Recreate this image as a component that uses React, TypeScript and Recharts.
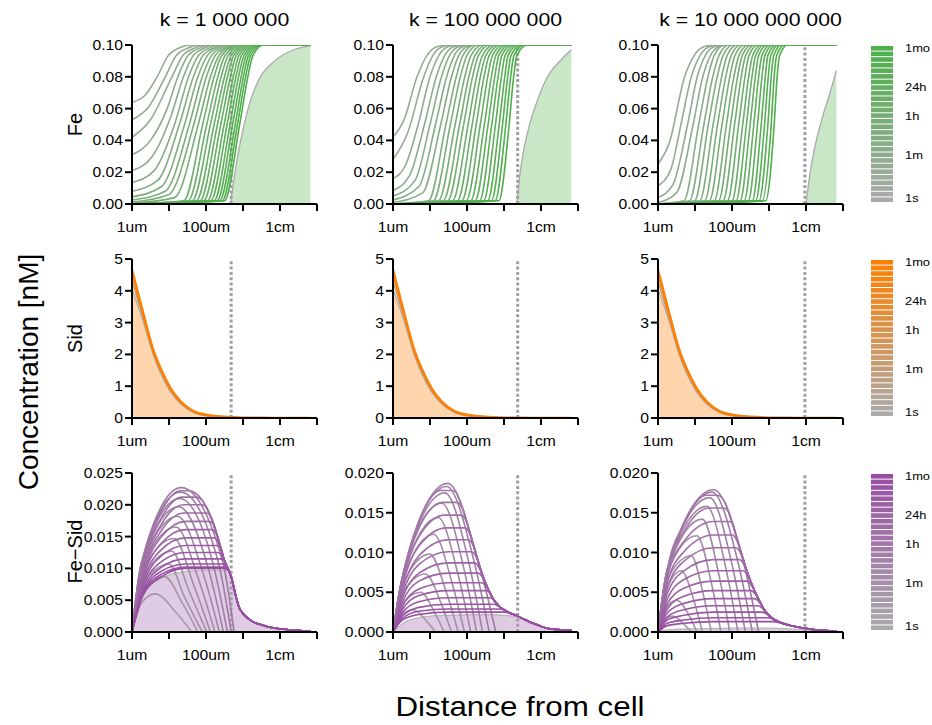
import React from 'react';
import { ComposedChart, Line, Area, XAxis, YAxis } from 'recharts';

type Pt = [number, number];

// ---------- axis / label data ----------
const X_TICKS = [0, 1, 2, 3, 4, 5]; // log10(distance / 1 µm)
const X_TICK_LABELS = ['1um', '', '100um', '', '1cm', ''];
const FE_Y_TICKS = [0, 0.02, 0.04, 0.06, 0.08, 0.1];
const SID_Y_TICKS = [0, 1, 2, 3, 4, 5];
const FESID_Y_TICKS_K6 = [0, 0.005, 0.01, 0.015, 0.02, 0.025];
const FESID_Y_TICKS = [0, 0.005, 0.01, 0.015, 0.02];
const TITLES = ['k = 1 000 000', 'k = 100 000 000', 'k = 10 000 000 000'];
const ROW_LABELS = ['Fe', 'Sid', 'Fe\u2212Sid'];
const CUTOFF_X = [2.68, 3.37, 3.97];
const LEGEND_LABELS = ['1mo', '24h', '1h', '1m', '1s'];
const LEGEND_STEPS = 28;

// ---------- Fe (row 1) ----------
const FE_K6: Pt[][] = [
  [[0, .064], [0.36, .0686], [0.68, .08], [0.99, .0937], [1.26, .098], [1.6, .1], [4.82, .1]],
  [[0, .053], [0.45, .061], [0.9, .08], [1.2, .0935], [1.5, .098], [1.85, .1], [4.82, .1]],
  [[0, .042], [0.5, .053], [1.08, .08], [1.38, .0935], [1.68, .098], [2.0, .1], [4.82, .1]],
  [[0, .031], [0.5, .04], [0.95, .06], [1.24, .08], [1.52, .0935], [1.82, .098], [2.15, .1], [4.82, .1]],
  [[0, .021], [0.55, .03], [1.05, .055], [1.39, .08], [1.66, .0935], [1.95, .098], [2.25, .1], [4.82, .1]],
  [[0, .0135], [0.6, .021], [1.15, .05], [1.53, .08], [1.8, .0935], [2.08, .098], [2.38, .1], [4.82, .1]],
  [[0, .008], [0.7, .015], [1.28, .05], [1.66, .08], [1.92, .0935], [2.2, .098], [2.48, .1], [4.82, .1]],
  [[0, .0045], [0.8, .011], [1.42, .05], [1.78, .08], [2.04, .0935], [2.3, .098], [2.58, .1], [4.82, .1]],
  [[0, .0025], [0.9, .008], [1.55, .05], [1.9, .08], [2.15, .0935], [2.4, .098], [2.67, .1], [4.82, .1]],
  [[0, .0012], [1.0, .006], [1.67, .05], [2.01, .08], [2.25, .0935], [2.5, .098], [2.74, .1], [4.82, .1]],
  [[0, .0005], [1.15, .004], [1.79, .05], [2.12, .08], [2.35, .0935], [2.58, .098], [2.8, .1], [4.82, .1]],
  [[0, 0], [1.40, .002], [1.91, .05], [2.22, .08], [2.43, .0935], [2.86, .1], [4.82, .1]],
  [[0, 0], [1.52, .002], [2.02, .05], [2.32, .08], [2.52, .0935], [2.92, .1], [4.82, .1]],
  [[0, 0], [1.63, .002], [2.12, .05], [2.41, .08], [2.60, .0935], [2.98, .1], [4.82, .1]],
  [[0, 0], [1.74, .002], [2.22, .05], [2.50, .08], [2.68, .0935], [3.05, .1], [4.82, .1]],
  [[0, 0], [1.84, .002], [2.31, .05], [2.58, .08], [2.75, .0935], [3.10, .1], [4.82, .1]],
  [[0, 0], [1.94, .002], [2.40, .05], [2.66, .08], [2.82, .0935], [3.16, .1], [4.82, .1]],
  [[0, 0], [2.04, .002], [2.49, .05], [2.74, .08], [2.89, .0935], [3.22, .1], [4.82, .1]],
  [[0, 0], [2.13, .002], [2.57, .05], [2.81, .08], [2.96, .0935], [3.28, .1], [4.82, .1]],
  [[0, 0], [2.22, .002], [2.65, .05], [2.88, .08], [3.03, .0935], [3.34, .1], [4.82, .1]],
  [[0, 0], [2.30, .002], [2.72, .05], [2.95, .08], [3.09, .0935], [3.40, .1], [4.82, .1]],
  [[0, 0], [2.37, .002], [2.79, .05], [3.01, .08], [3.15, .0935], [3.45, .1], [4.82, .1]],
  [[0, 0], [2.44, .002], [2.85, .05], [3.07, .08], [3.21, .0935], [3.50, .1], [4.82, .1]],
  [[0, 0], [2.50, .002], [2.91, .05], [3.13, .08], [3.27, .0935], [3.56, .1], [4.82, .1]],
];
const FE_AREA_K6: Pt[] = [[2.66, 0], [2.84, .028], [3.02, .049], [3.2, .065], [3.47, .08], [3.83, .0895], [4.37, .097], [4.82, .0996]];

const FE_K8: Pt[][] = [
  [[0, .042], [0.3, .053], [0.65, .08], [0.92, .0935], [1.2, .099], [1.45, .1], [4.82, .1]],
  [[0, .028], [0.4, .045], [0.83, .08], [1.08, .0935], [1.35, .099], [1.6, .1], [4.82, .1]],
  [[0, .016], [0.35, .025], [0.68, .05], [1.0, .08], [1.24, .0935], [1.5, .099], [1.75, .1], [4.82, .1]],
  [[0, .0085], [0.45, .018], [0.85, .05], [1.17, .08], [1.4, .0935], [1.65, .099], [1.9, .1], [4.82, .1]],
  [[0, .005], [0.6, .015], [1.0, .05], [1.31, .08], [1.53, .0935], [1.78, .099], [2.02, .1], [4.82, .1]],
  [[0, .0025], [0.7, .011], [1.15, .05], [1.45, .08], [1.66, .0935], [1.9, .099], [2.14, .1], [4.82, .1]],
  [[0, .001], [0.8, .007], [1.29, .05], [1.58, .08], [1.78, .0935], [2.02, .099], [2.25, .1], [4.82, .1]],
  [[0, 0], [0.96, .002], [1.43, .05], [1.71, .08], [1.89, .0935], [2.21, .1], [4.82, .1]],
  [[0, 0], [1.09, .002], [1.55, .05], [1.82, .08], [2.00, .0935], [2.31, .1], [4.82, .1]],
  [[0, 0], [1.23, .002], [1.68, .05], [1.94, .08], [2.11, .0935], [2.43, .1], [4.82, .1]],
  [[0, 0], [1.36, .002], [1.80, .05], [2.05, .08], [2.22, .0935], [2.53, .1], [4.82, .1]],
  [[0, 0], [1.48, .002], [1.91, .05], [2.15, .08], [2.31, .0935], [2.62, .1], [4.82, .1]],
  [[0, 0], [1.61, .002], [2.03, .05], [2.26, .08], [2.42, .0935], [2.72, .1], [4.82, .1]],
  [[0, 0], [1.74, .002], [2.14, .05], [2.36, .08], [2.51, .0935], [2.81, .1], [4.82, .1]],
  [[0, 0], [1.86, .002], [2.25, .05], [2.46, .08], [2.60, .0935], [2.90, .1], [4.82, .1]],
  [[0, 0], [1.98, .002], [2.36, .05], [2.56, .08], [2.69, .0935], [2.99, .1], [4.82, .1]],
  [[0, 0], [2.10, .002], [2.47, .05], [2.66, .08], [2.78, .0935], [3.07, .1], [4.82, .1]],
  [[0, 0], [2.22, .002], [2.57, .05], [2.75, .08], [2.86, .0935], [3.15, .1], [4.82, .1]],
  [[0, 0], [2.34, .002], [2.67, .05], [2.84, .08], [2.94, .0935], [3.23, .1], [4.82, .1]],
  [[0, 0], [2.45, .002], [2.77, .05], [2.93, .08], [3.03, .0935], [3.31, .1], [4.82, .1]],
  [[0, 0], [2.56, .002], [2.87, .05], [3.02, .08], [3.11, .0935], [3.39, .1], [4.82, .1]],
  [[0, 0], [2.66, .002], [2.96, .05], [3.10, .08], [3.19, .0935], [3.47, .1], [4.82, .1]],
  [[0, 0], [2.76, .002], [3.05, .05], [3.18, .08], [3.27, .0935], [3.55, .1], [4.82, .1]],
  [[0, 0], [2.86, .002], [3.14, .05], [3.26, .08], [3.35, .0935], [3.63, .1], [4.82, .1]],
];
const FE_AREA_K8: Pt[] = [[3.34, 0], [3.46, .024], [3.68, .049], [3.9, .065], [4.13, .078], [4.58, .0916], [4.82, .097]];

const FE_K10: Pt[][] = [
  [[0, .025], [0.3, .038], [0.72, .08], [0.98, .0935], [1.25, .099], [1.5, .1], [4.82, .1]],
  [[0, .0115], [0.35, .022], [0.62, .05], [0.9, .08], [1.14, .0935], [1.4, .099], [1.65, .1], [4.82, .1]],
  [[0, .004], [0.4, .012], [0.8, .05], [1.06, .08], [1.28, .0935], [1.53, .099], [1.78, .1], [4.82, .1]],
  [[0, .001], [0.5, .007], [0.95, .05], [1.21, .08], [1.42, .0935], [1.66, .099], [1.9, .1], [4.82, .1]],
  [[0, 0], [0.70, .002], [1.10, .05], [1.35, .08], [1.52, .0935], [1.80, .1], [4.82, .1]],
  [[0, 0], [0.85, .002], [1.24, .05], [1.48, .08], [1.65, .0935], [1.92, .1], [4.82, .1]],
  [[0, 0], [0.99, .002], [1.36, .05], [1.60, .08], [1.76, .0935], [2.03, .1], [4.82, .1]],
  [[0, 0], [1.13, .002], [1.49, .05], [1.72, .08], [1.87, .0935], [2.14, .1], [4.82, .1]],
  [[0, 0], [1.26, .002], [1.61, .05], [1.83, .08], [1.98, .0935], [2.24, .1], [4.82, .1]],
  [[0, 0], [1.39, .002], [1.73, .05], [1.94, .08], [2.08, .0935], [2.34, .1], [4.82, .1]],
  [[0, 0], [1.52, .002], [1.85, .05], [2.05, .08], [2.19, .0935], [2.44, .1], [4.82, .1]],
  [[0, 0], [1.64, .002], [1.96, .05], [2.15, .08], [2.28, .0935], [2.53, .1], [4.82, .1]],
  [[0, 0], [1.76, .002], [2.07, .05], [2.25, .08], [2.37, .0935], [2.62, .1], [4.82, .1]],
  [[0, 0], [1.88, .002], [2.18, .05], [2.35, .08], [2.46, .0935], [2.71, .1], [4.82, .1]],
  [[0, 0], [2.00, .002], [2.29, .05], [2.45, .08], [2.56, .0935], [2.80, .1], [4.82, .1]],
  [[0, 0], [2.11, .002], [2.39, .05], [2.54, .08], [2.64, .0935], [2.88, .1], [4.82, .1]],
  [[0, 0], [2.22, .002], [2.49, .05], [2.63, .08], [2.72, .0935], [2.96, .1], [4.82, .1]],
  [[0, 0], [2.33, .002], [2.59, .05], [2.72, .08], [2.81, .0935], [3.04, .1], [4.82, .1]],
  [[0, 0], [2.44, .002], [2.69, .05], [2.81, .08], [2.89, .0935], [3.12, .1], [4.82, .1]],
  [[0, 0], [2.55, .002], [2.79, .05], [2.90, .08], [2.97, .0935], [3.20, .1], [4.82, .1]],
  [[0, 0], [2.64, .002], [2.88, .05], [2.98, .08], [3.05, .0935], [3.27, .1], [4.82, .1]],
  [[0, 0], [2.73, .002], [2.97, .05], [3.06, .08], [3.13, .0935], [3.34, .1], [4.82, .1]],
  [[0, 0], [2.82, .002], [3.06, .05], [3.14, .08], [3.21, .0935], [3.42, .1], [4.82, .1]],
  [[0, 0], [2.91, .002], [3.14, .05], [3.22, .08], [3.29, .0935], [3.50, .1], [4.82, .1]],
];
const FE_AREA_K10: Pt[] = [[4.0, 0], [4.1, .018], [4.25, .037], [4.45, .055], [4.65, .07], [4.82, .084]];

// ---------- Sid (row 2) ----------
const SID_EARLY: Pt[] = [[0, 4.05], [0.3, 3.05], [0.585, 1.95], [0.766, 1.42], [1.04, 0.82], [1.31, 0.45], [1.67, 0.17], [2.0, 0.07], [2.5, 0.02], [3.0, 0.005], [3.5, 0.001], [4.82, 0]];
const SID_CURVES: Pt[][] = [
  [[0, 4.3], [0.3, 3.15], [0.585, 2.01], [0.766, 1.48], [1.04, 0.87], [1.31, 0.48], [1.67, 0.19], [2.0, 0.085], [2.5, 0.028], [3.0, 0.007], [3.5, 0.002], [4.82, 0]],
  [[0, 4.5], [0.3, 3.24], [0.585, 2.07], [0.766, 1.54], [1.04, 0.92], [1.31, 0.51], [1.67, 0.205], [2.0, 0.095], [2.5, 0.033], [3.0, 0.009], [3.5, 0.0025], [4.82, 0]],
  [[0, 4.65], [0.3, 3.3], [0.585, 2.1], [0.766, 1.57], [1.04, 0.94], [1.31, 0.52], [1.67, 0.21], [2.0, 0.1], [2.5, 0.035], [3.0, 0.01], [3.5, 0.003], [4.0, 0.001], [4.82, 0]],
];

// ---------- Fe-Sid (row 3) ----------
// early rising humps
const FESID_K6_RISE: Pt[][] = [
  [[0, 0], [0.25, .0045], [0.63, .0060], [1.2, .0030], [1.62, 0]],
  [[0, 0], [0.25, .0060], [0.88, .0087], [1.38, .00435], [1.78, 0]],
  [[0, 0], [0.25, .0072], [1.0, .0107], [1.43, .00535], [1.9, 0]],
  [[0, 0], [0.25, .0082], [1.08, .0127], [1.55, .00635], [2.02, 0]],
  [[0, 0], [0.25, .0090], [1.14, .0147], [1.67, .00735], [2.12, 0]],
  [[0, 0], [0.25, .0096], [1.19, .0165], [1.8, .00825], [2.24, 0]],
  [[0, 0], [0.25, .0100], [1.23, .0182], [1.93, .0091], [2.36, 0]],
  [[0, 0], [0.25, .0103], [1.26, .0197], [2.07, .00985], [2.47, 0]],
  [[0, 0], [0.25, .0105], [1.29, .0210], [2.2, .0105], [2.58, 0]],
  [[0, 0], [0.25, .0107], [1.31, .0220], [2.33, .0110], [2.68, 0]],
  [[0, 0], [0.25, .0108], [1.33, .0227], [2.44, .01135], [2.76, 0]],
];
// later flat-topped profiles (head part, tail follows the common envelope)
const FESID_K6_LATE: Pt[][] = [
  [[0, 0], [0.3, .0112], [0.8, .0190], [1.3, .0222], [1.56, .0222]],
  [[0, 0], [0.3, .0106], [0.8, .0180], [1.35, .0212], [1.73, .0212]],
  [[0, 0], [0.3, .0100], [0.8, .0170], [1.4, .0200], [1.87, .0200]],
  [[0, 0], [0.3, .0094], [0.8, .0160], [1.42, .0187], [1.98, .0187]],
  [[0, 0], [0.3, .0088], [0.8, .0150], [1.45, .0174], [2.07, .0174]],
  [[0, 0], [0.3, .0083], [0.8, .0140], [1.45, .0161], [2.15, .0161]],
  [[0, 0], [0.3, .0078], [0.8, .0130], [1.45, .0148], [2.22, .0148]],
  [[0, 0], [0.3, .0073], [0.8, .0120], [1.45, .0136], [2.28, .0136]],
  [[0, 0], [0.3, .0069], [0.8, .0111], [1.45, .0125], [2.33, .0125]],
  [[0, 0], [0.3, .0065], [0.8, .0102], [1.45, .0115], [2.39, .0115]],
  [[0, 0], [0.3, .0062], [0.8, .0096], [1.45, .0107], [2.44, .0107]],
  [[0, 0], [0.3, .0060], [0.8, .0091], [1.45, .0102], [2.48, .0102]],
  [[0, 0], [0.3, .0058], [0.8, .0087], [1.45, .0100], [2.52, .0100]],
];
const FESID_K6_TAIL: Pt[] = [[1.5, .0225], [1.6, .0223], [1.7, .0219], [1.8, .0214], [1.9, .0207], [2.0, .0197], [2.1, .0185], [2.2, .0170], [2.3, .0152], [2.4, .0132], [2.5, .0112], [2.6, .0099], [2.7, .0083], [2.8, .0058], [2.9, .0038], [3.0, .0029], [3.12, .0022], [3.24, .0017], [3.45, .0012], [3.69, .0008], [4.0, .0005], [4.32, .0003], [4.82, .0001]];
const FESID_AREA_K6: Pt[] = [[0, 0], [0.3, .0062], [0.7, .0082], [1.2, .0093], [1.8, .0097], [2.6, .0097], [2.7, .0082], [2.8, .0057], [2.9, .0037], [3.0, .0028], [3.24, .0016], [3.69, .0007], [4.32, .0003], [4.82, .0001]];

const FESID_K8_RISE: Pt[][] = [
  [[0, 0], [0.25, .0022], [0.55, .0028], [0.9, .0014], [1.15, 0]],
  [[0, 0], [0.25, .0035], [0.75, .0050], [1.12, .0025], [1.38, 0]],
  [[0, 0], [0.25, .0048], [0.88, .0073], [1.3, .0036], [1.58, 0]],
  [[0, 0], [0.25, .0058], [0.99, .0098], [1.45, .0049], [1.76, 0]],
  [[0, 0], [0.25, .0064], [1.1, .0123], [1.6, .0061], [1.93, 0]],
  [[0, 0], [0.25, .0067], [1.22, .0144], [1.76, .0072], [2.1, 0]],
  [[0, 0], [0.25, .0068], [1.32, .0162], [1.91, .0081], [2.26, 0]],
  [[0, 0], [0.25, .0068], [1.40, .0175], [2.05, .0087], [2.42, 0]],
  [[0, 0], [0.25, .0068], [1.45, .0183], [2.18, .0091], [2.6, 0]],
  [[0, 0], [0.25, .0068], [1.48, .0187], [2.28, .0093], [2.78, 0]],
];
const FESID_K8_LATE: Pt[][] = [
  [[0, 0], [0.25, .0068], [0.7, .0140], [1.3, .0178], [1.56, .0178]],
  [[0, 0], [0.25, .0066], [0.7, .0132], [1.35, .0163], [1.72, .0163]],
  [[0, 0], [0.25, .0062], [0.7, .0120], [1.4, .0147], [1.84, .0147]],
  [[0, 0], [0.25, .0057], [0.7, .0108], [1.45, .0131], [1.94, .0131]],
  [[0, 0], [0.25, .0052], [0.7, .0096], [1.5, .0116], [2.03, .0116]],
  [[0, 0], [0.25, .0047], [0.7, .0085], [1.5, .0101], [2.12, .0101]],
  [[0, 0], [0.25, .0042], [0.7, .0074], [1.5, .0087], [2.21, .0087]],
  [[0, 0], [0.25, .0037], [0.7, .0064], [1.5, .0074], [2.30, .0074]],
  [[0, 0], [0.25, .0032], [0.7, .0054], [1.5, .0062], [2.40, .0062]],
  [[0, 0], [0.25, .0028], [0.7, .0046], [1.5, .0052], [2.49, .0052]],
  [[0, 0], [0.25, .0024], [0.7, .0038], [1.5, .0043], [2.59, .0043]],
  [[0, 0], [0.25, .0020], [0.7, .0031], [1.5, .0035], [2.72, .0035]],
  [[0, 0], [0.25, .0017], [0.7, .0026], [1.5, .0029], [2.87, .0029]],
  [[0, 0], [0.25, .0015], [0.7, .0022], [1.5, .0025], [3.0, .0025]],
];
const FESID_K8_TAIL: Pt[] = [[1.6, .0181], [1.7, .0176], [1.8, .0166], [1.9, .0153], [2.0, .0137], [2.1, .0121], [2.2, .0105], [2.3, .0089], [2.4, .0074], [2.5, .0062], [2.6, .0051], [2.7, .0042], [2.8, .0036], [2.9, .0031], [3.0, .0028], [3.15, .0024], [3.32, .0021], [3.5, .0017], [3.68, .0013], [3.9, .0009], [4.13, .0005], [4.45, .0003], [4.82, .0002]];
const FESID_AREA_K8: Pt[] = [[0, 0], [0.3, .0012], [0.6, .0017], [1.0, .0020], [1.5, .0021], [2.5, .0022], [3.0, .0021], [3.32, .0019], [3.68, .0012], [4.13, .0005], [4.82, .0002]];

const FESID_K10_RISE: Pt[][] = [
  [[0, 0], [0.2, .0015], [0.40, .0020], [0.7, .0010], [0.9, 0]],
  [[0, 0], [0.25, .0032], [0.50, .0040], [0.85, .0020], [1.05, 0]],
  [[0, 0], [0.25, .0055], [0.63, .0077], [0.98, .0038], [1.2, 0]],
  [[0, 0], [0.25, .0066], [0.90, .0096], [1.22, .0048], [1.44, 0]],
  [[0, 0], [0.25, .0074], [1.05, .0121], [1.45, .0060], [1.7, 0]],
  [[0, 0], [0.25, .0077], [1.20, .0142], [1.65, .0071], [1.94, 0]],
  [[0, 0], [0.25, .0078], [1.32, .0158], [1.84, .0079], [2.16, 0]],
  [[0, 0], [0.25, .0078], [1.40, .0169], [2.0, .0085], [2.36, 0]],
  [[0, 0], [0.25, .0078], [1.46, .0176], [2.16, .0088], [2.55, 0]],
  [[0, 0], [0.25, .0078], [1.50, .0179], [2.3, .0090], [2.72, 0]],
];
const FESID_K10_LATE: Pt[][] = [
  [[0, 0], [0.25, .0078], [0.7, .0136], [1.3, .0172], [1.6, .0172]],
  [[0, 0], [0.25, .0074], [0.7, .0126], [1.4, .0156], [1.77, .0156]],
  [[0, 0], [0.25, .0068], [0.7, .0114], [1.5, .0139], [1.89, .0139]],
  [[0, 0], [0.25, .0062], [0.7, .0101], [1.5, .0122], [2.01, .0122]],
  [[0, 0], [0.25, .0055], [0.7, .0089], [1.5, .0106], [2.10, .0106]],
  [[0, 0], [0.25, .0048], [0.7, .0077], [1.5, .0091], [2.21, .0091]],
  [[0, 0], [0.25, .0041], [0.7, .0066], [1.5, .0077], [2.30, .0077]],
  [[0, 0], [0.25, .0035], [0.7, .0055], [1.5, .0064], [2.40, .0064]],
  [[0, 0], [0.25, .0029], [0.7, .0045], [1.5, .0052], [2.51, .0052]],
  [[0, 0], [0.25, .0024], [0.7, .0036], [1.5, .0042], [2.61, .0042]],
  [[0, 0], [0.25, .0019], [0.7, .0028], [1.5, .0033], [2.71, .0033]],
  [[0, 0], [0.25, .0015], [0.7, .0021], [1.5, .0025], [2.82, .0025]],
  [[0, 0], [0.25, .0011], [0.7, .0015], [1.5, .0018], [2.98, .0018]],
  [[0, 0], [0.25, .0008], [0.7, .0011], [1.5, .0013], [3.12, .0013]],
];
const FESID_K10_TAIL: Pt[] = [[1.6, .0177], [1.7, .0172], [1.8, .0164], [1.9, .0152], [2.0, .0138], [2.1, .0123], [2.2, .0107], [2.3, .0092], [2.4, .0077], [2.5, .0064], [2.6, .0053], [2.7, .0043], [2.8, .0034], [2.9, .0026], [3.0, .0021], [3.13, .0016], [3.26, .0013], [3.5, .0009], [3.8, .0006], [4.2, .0003], [4.82, .0001]];
const FESID_AREA_K10: Pt[] = [[0, 0], [0.3, .0003], [1.0, .0004], [2.0, .0005], [3.0, .0005], [3.5, .0004], [4.0, .0003], [4.82, .0001]];

// ---------- styling / layout ----------
const FONT = '"Liberation Sans", Arial, Helvetica, sans-serif';
const SX = 1.12;
const COL_LEFT = [132, 393, 658];
const ROW_TOP = [45, 259, 473];
const PLOT_W = 185;
const PLOT_H = 159;
const YW = 60;
const XH = 35;
const MARGIN = { top: 12, right: 5, bottom: 0, left: 0 };
const GRAY = [170, 170, 170];
const GREEN = [77, 175, 74];
const ORANGE = [255, 127, 0];
const PURPLE = [152, 78, 163];
const LEGEND_LABEL_OFFSETS = [2.7, 41.7, 71, 110, 153.3];
const CURVE_COLOR_START = 0.2;

const mix = (c: number[], f: number) =>
  `rgb(${Math.round(GRAY[0] + (c[0] - GRAY[0]) * f)},${Math.round(GRAY[1] + (c[1] - GRAY[1]) * f)},${Math.round(GRAY[2] + (c[2] - GRAY[2]) * f)})`;

const rows = (pts: Pt[]) => pts.map(([x, y]) => ({ x, y }));

const withTail = (head: Pt[], tail: Pt[]): Pt[] => {
  const [lx, ly] = head[head.length - 1];
  return head.concat(tail.filter(([x, y]) => x > lx + 0.08 && y < ly));
};

const XTick = (props: any) => {
  const { x, y, payload } = props;
  const label = X_TICK_LABELS[X_TICKS.indexOf(payload.value)];
  if (!label) return <g />;
  return (
    <text transform={`translate(${x},${y + 19}) scale(${SX},1)`} textAnchor="middle" fontSize={14} fontFamily={FONT} fill="#000">
      {label}
    </text>
  );
};

const makeYTick = (digits: number) => (props: any) => {
  const { x, y, payload } = props;
  return (
    <text transform={`translate(${x},${y}) scale(${SX},1)`} dy="0.36em" textAnchor="end" fontSize={14} fontFamily={FONT} fill="#000">
      {Number(payload.value).toFixed(digits)}
    </text>
  );
};

type PanelProps = {
  left: number;
  top: number;
  yMax: number;
  yTicks: number[];
  yDigits: number;
  area: Pt[];
  areaFill: string;
  areaStroke: string;
  curves: Pt[][];
  colors: string[];
  widths: number[];
  cutX: number;
};

function Panel(p: PanelProps) {
  return (
    <div style={{ position: 'absolute', left: p.left - YW, top: p.top - MARGIN.top }}>
      <ComposedChart width={YW + PLOT_W + MARGIN.right} height={MARGIN.top + PLOT_H + XH} margin={MARGIN}>
        <XAxis
          dataKey="x"
          type="number"
          domain={[0, 5]}
          ticks={X_TICKS}
          interval={0}
          allowDataOverflow
          height={XH}
          tickSize={7}
          tickMargin={2}
          tick={XTick}
          axisLine={{ stroke: '#000', strokeWidth: 2 }}
          tickLine={{ stroke: '#000', strokeWidth: 2 }}
        />
        <YAxis
          type="number"
          domain={[0, p.yMax]}
          ticks={p.yTicks}
          interval={0}
          allowDataOverflow
          width={YW}
          tickSize={7}
          tickMargin={2}
          tick={makeYTick(p.yDigits)}
          axisLine={{ stroke: '#000', strokeWidth: 2 }}
          tickLine={{ stroke: '#000', strokeWidth: 2 }}
        />
        <Area
          data={rows(p.area)}
          dataKey="y"
          type="monotone"
          fill={p.areaFill}
          fillOpacity={1}
          stroke={p.areaStroke}
          strokeWidth={1.3}
          baseValue={0}
          dot={false}
          activeDot={false}
          isAnimationActive={false}
        />
        <Line
          data={[{ x: p.cutX, y: 0 }, { x: p.cutX, y: p.yMax }]}
          dataKey="y"
          type="linear"
          stroke="#a0a0a0"
          strokeWidth={3}
          strokeDasharray="3 2.3"
          dot={false}
          activeDot={false}
          isAnimationActive={false}
        />
        {p.curves.map((c, i) => (
          <Line
            key={i}
            data={rows(c)}
            dataKey="y"
            type="monotone"
            stroke={p.colors[i]}
            strokeWidth={p.widths[i]}
            dot={false}
            activeDot={false}
            isAnimationActive={false}
          />
        ))}
      </ComposedChart>
    </div>
  );
}

const gradient = (c: number[], n: number) =>
  Array.from({ length: n }, (_, i) => mix(c, CURVE_COLOR_START + (1 - CURVE_COLOR_START) * (n === 1 ? 1 : i / (n - 1))));

export default function App() {
  const feSets = [FE_K6, FE_K8, FE_K10];
  const feAreas = [FE_AREA_K6, FE_AREA_K8, FE_AREA_K10];
  const fsRise = [FESID_K6_RISE, FESID_K8_RISE, FESID_K10_RISE];
  const fsLate = [FESID_K6_LATE, FESID_K8_LATE, FESID_K10_LATE];
  const fsTail = [FESID_K6_TAIL, FESID_K8_TAIL, FESID_K10_TAIL];
  const fsAreas = [FESID_AREA_K6, FESID_AREA_K8, FESID_AREA_K10];
  const legendColors = [GREEN, ORANGE, PURPLE];
  const barH = (PLOT_H - 2) / LEGEND_STEPS;

  return (
    <div style={{ position: 'absolute', left: 0, top: 0, width: 932, height: 725, background: '#fff', fontFamily: FONT }}>
      {[0, 1, 2].map((c) => {
        const fe = feSets[c];
        const fs = [...fsRise[c], ...fsLate[c].map((h) => withTail(h, fsTail[c]))];
        return (
          <React.Fragment key={c}>
            <Panel
              left={COL_LEFT[c]}
              top={ROW_TOP[0]}
              yMax={0.1}
              yTicks={FE_Y_TICKS}
              yDigits={2}
              area={feAreas[c]}
              areaFill="#c9e6c7"
              areaStroke="#aaaaaa"
              curves={fe}
              colors={gradient(GREEN, fe.length)}
              widths={fe.map(() => 1.6)}
              cutX={CUTOFF_X[c]}
            />
            <Panel
              left={COL_LEFT[c]}
              top={ROW_TOP[1]}
              yMax={5}
              yTicks={SID_Y_TICKS}
              yDigits={0}
              area={SID_EARLY}
              areaFill="#fed5ad"
              areaStroke="#aaaaaa"
              curves={SID_CURVES}
              colors={[mix(ORANGE, 0.3), mix(ORANGE, 0.65), mix(ORANGE, 1)]}
              widths={[1.5, 1.5, 2.6]}
              cutX={CUTOFF_X[c]}
            />
            <Panel
              left={COL_LEFT[c]}
              top={ROW_TOP[2]}
              yMax={c === 0 ? 0.025 : 0.02}
              yTicks={c === 0 ? FESID_Y_TICKS_K6 : FESID_Y_TICKS}
              yDigits={3}
              area={fsAreas[c]}
              areaFill="#e0cbe4"
              areaStroke="#b8b8b8"
              curves={fs}
              colors={gradient(PURPLE, fs.length)}
              widths={fs.map(() => 1.6)}
              cutX={CUTOFF_X[c]}
            />
          </React.Fragment>
        );
      })}

      <svg width={932} height={725} style={{ position: 'absolute', left: 0, top: 0, pointerEvents: 'none' }}>
        {TITLES.map((t, c) => (
          <text key={t} transform={`translate(${COL_LEFT[c] + PLOT_W / 2},26) scale(${SX},1)`} textAnchor="middle" fontSize={19} fontFamily={FONT} fill="#000">
            {t}
          </text>
        ))}
        {ROW_LABELS.map((t, r) => (
          <text key={t} transform={`translate(75,${ROW_TOP[r] + PLOT_H / 2 + (r === 2 ? -1 : 0)}) rotate(-90)`} textAnchor="middle" dy="0.36em" fontSize={20} fontFamily={FONT} fill="#000">
            {t}
          </text>
        ))}
        <text transform="translate(28,372) rotate(-90)" textAnchor="middle" dy="0.36em" fontSize={28} fontFamily={FONT} fill="#000">
          Concentration [nM]
        </text>
        <text transform={`translate(520,716) scale(${SX},1)`} textAnchor="middle" fontSize={28} fontFamily={FONT} fill="#000">
          Distance from cell
        </text>
        {legendColors.map((col, r) => (
          <g key={r}>
            {Array.from({ length: LEGEND_STEPS }, (_, k) => (
              <rect
                key={k}
                x={871}
                y={ROW_TOP[r] + 1 + (LEGEND_STEPS - 1 - k) * barH}
                width={22}
                height={barH - 1}
                fill={mix(col, k / (LEGEND_STEPS - 1))}
              />
            ))}
            {LEGEND_LABELS.map((l, j) => (
              <text key={l} transform={`translate(905,${ROW_TOP[r] + LEGEND_LABEL_OFFSETS[j]}) scale(${SX},1)`} dy="0.36em" fontSize={11.5} fontFamily={FONT} fill="#000">
                {l}
              </text>
            ))}
          </g>
        ))}
      </svg>
    </div>
  );
}
